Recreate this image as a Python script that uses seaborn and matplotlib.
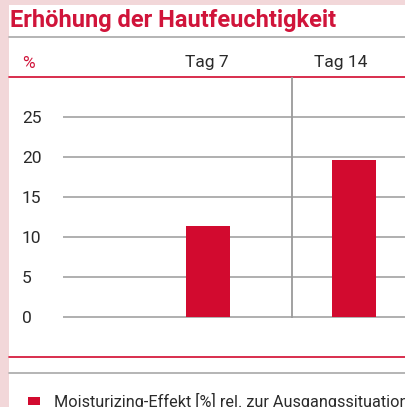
import pandas as pd
import matplotlib
matplotlib.use("Agg")
import matplotlib.pyplot as plt
import seaborn as sns
from matplotlib.lines import Line2D
from matplotlib.patches import Rectangle

# data
days = ["Tag 7", "Tag 14"]
effect = [11.4, 19.6]
y_ticks = [0, 5, 10, 15, 20, 25]
title = "Erhöhung der Hautfeuchtigkeit"
legend_label = "Moisturizing-Effekt [%] rel. zur Ausgangssituation"

RED = "#d20a2f"
TITLE_RED = "#d0143a"
PINK = "#f2d7d9"
GRID = "#9a9a9a"

W, H = 405, 407

def fx(px):
    return px / W

def fy(py):
    return 1 - py / H

sns.set_theme(style="white")
plt.rcParams["font.family"] = ["Roboto", "DejaVu Sans"]

fig = plt.figure(figsize=(W / 100, H / 100), dpi=100, facecolor=PINK)
fig.patches.append(Rectangle((fx(9), 0), 1 - fx(9), fy(5), transform=fig.transFigure,
                             facecolor="white", edgecolor="none", zorder=-5))

# plot area: 0 at y=317px, 25 at y=117px (8 px per unit)
ax_top, ax_bot = 77, 340
ax = fig.add_axes([fx(63), fy(ax_bot), 1 - fx(63), (ax_bot - ax_top) / H])
ax.set_facecolor("none")
ax.set_zorder(2)

df = pd.DataFrame({"day": days, "effect": effect})
sns.barplot(data=df, x="day", y="effect", color=RED, saturation=1, width=0.3,
            linewidth=0, ax=ax, zorder=3)

for t in y_ticks:
    ax.axhline(t, color=GRID, lw=1.1, zorder=1)

ax.set_ylim(-(ax_bot - 317) / 8, 25 + (117 - ax_top) / 8)
ax.set_xlim(-(208 - 63) / 146, 1 + (405 - 354) / 146)
ax.vlines(0.575, ax.get_ylim()[1], -0.1, color=GRID, lw=1.3, zorder=2)

ax.set_yticks(y_ticks)
ax.set_yticklabels([str(t) for t in y_ticks], ha="left", fontsize=12.5, color="#2a2a2a")
ax.tick_params(axis="y", length=0, pad=(63 - 22) * 0.72)
ax.set_xticks([])
ax.set_xlabel("")
ax.set_ylabel("")
for s in ax.spines.values():
    s.set_visible(False)

# header
fig.text(fx(10), fy(21), title, color=TITLE_RED, fontsize=17, fontweight="bold",
         va="center", ha="left")
fig.add_artist(Line2D([fx(9), 1], [fy(37), fy(37)], color="#a8a8a8", lw=1.2))
fig.text(fx(22), fy(63), "%", color=TITLE_RED, fontsize=12.5, va="center", ha="left")
fig.text(fx(207), fy(63), days[0], color="#2a2a2a", fontsize=12.5, va="center", ha="center")
fig.text(fx(341), fy(63), days[1], color="#2a2a2a", fontsize=12.5, va="center", ha="center")
fig.add_artist(Line2D([fx(9), 1], [fy(77), fy(77)], color=RED, lw=1.2))

# footer
fig.add_artist(Line2D([fx(9), 1], [fy(357), fy(357)], color=RED, lw=1.2))
fig.add_artist(Line2D([fx(9), 1], [fy(373), fy(373)], color="#a8a8a8", lw=1.2))
fig.patches.append(Rectangle((fx(28), fy(405)), fx(12), 8 / H, transform=fig.transFigure,
                             facecolor=RED, edgecolor="none"))
fig.text(fx(54), fy(401), legend_label, color="#2a2a2a", fontsize=11.7, va="center", ha="left")

fig.savefig("out.png", dpi=100, facecolor=PINK)
